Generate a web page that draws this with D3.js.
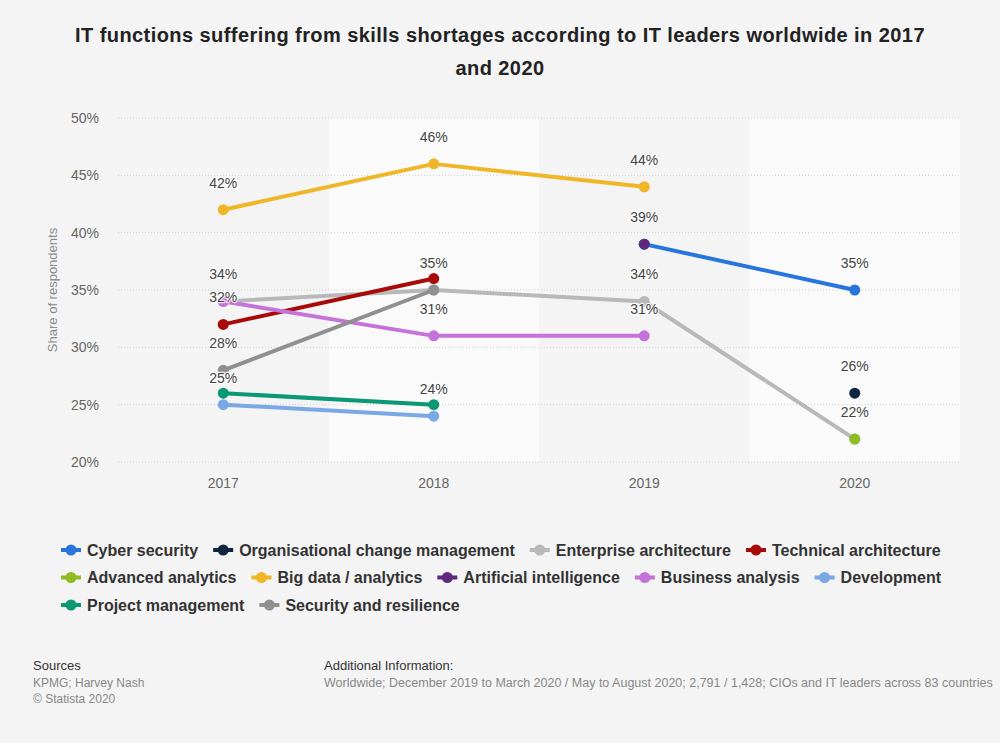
<!DOCTYPE html>
<html><head><meta charset="utf-8">
<script src="https://cdn.jsdelivr.net/npm/d3@7"></script>
<style>
html,body{margin:0;padding:0;background:#f4f4f4;}
svg{display:block;font-family:"Liberation Sans",Arial,Helvetica,sans-serif;}
</style></head>
<body><svg id="chart" width="1000" height="743"></svg>
<script>
const years = ["2017","2018","2019","2020"];
const yTicks = [20,25,30,35,40,45,50];
const seriesNames = ["Cyber security","Organisational change management","Enterprise architecture","Technical architecture","Advanced analytics","Big data / analytics","Artificial intelligence","Business analysis","Development","Project management","Security and resilience"];
const seriesColors = ["#2876dd","#0f2641","#b8b8b8","#a80a0a","#8fbb23","#efb628","#5e2a7d","#c572d9","#79a8e5","#0a9875","#8f8f8f"];
const cyberSecurity = [null,null,39,35];
const orgChange = [null,null,null,26];
const enterpriseArch = [34,35,34,22];
const technicalArch = [32,36,null,null];
const advancedAnalytics = [null,null,null,22];
const bigData = [42,46,44,null];
const artificialIntel = [null,null,39,null];
const businessAnalysis = [34,31,31,null];
const development = [25,24,null,null];
const projectManagement = [26,25,null,null];
const securityResilience = [28,35,null,null];
const seriesValues = [cyberSecurity,orgChange,enterpriseArch,technicalArch,advancedAnalytics,bigData,artificialIntel,businessAnalysis,development,projectManagement,securityResilience];

const titleLines = ["IT functions suffering from skills shortages according to IT leaders worldwide in 2017","and 2020"];

const svg = d3.select("#chart");
const L = 118, R = 960, T = 118, B = 462;
const x = d3.scaleBand().domain(years).range([L,R]);
const y = d3.scaleLinear().domain([20,50]).range([B,T]);
const cx = d => x(d) + x.bandwidth()/2;

// title
const tt = svg.append("g").selectAll("text").data(titleLines).join("text")
  .attr("x",500).attr("y",(d,i)=>41.5+i*33.5).attr("text-anchor","middle")
  .attr("font-size",20).attr("font-weight","bold").attr("fill","#222").text(d=>d);
const t0 = tt.nodes()[0];
const ls = (850 - t0.getComputedTextLength())/titleLines[0].length;
tt.attr("letter-spacing",ls);

// bands
svg.append("g").selectAll("rect").data(years).join("rect")
  .attr("x",d=>x(d)).attr("y",T).attr("width",x.bandwidth()).attr("height",B-T)
  .attr("fill",(d,i)=> i%2 ? "#fafafa" : "#f4f4f4");

// grid
svg.append("g").selectAll("line").data(yTicks).join("line")
  .attr("x1",L).attr("x2",R).attr("y1",d=>y(d)).attr("y2",d=>y(d))
  .attr("stroke","#cfcfcf").attr("stroke-width",1).attr("stroke-dasharray","1,2");

// y axis
const yAxis = d3.axisLeft(y).tickValues(yTicks).tickFormat(d=>d+"%").tickSize(0).tickPadding(0);
const gy = svg.append("g").attr("transform",`translate(99,0)`).call(yAxis);
gy.select(".domain").remove();
gy.selectAll("text").attr("font-size",14).attr("fill","#666").attr("font-family","Liberation Sans, Arial, sans-serif");

svg.append("text").attr("transform","translate(57,290) rotate(-90)").attr("text-anchor","middle")
  .attr("font-size",13).attr("fill","#8a8a8a").text("Share of respondents");

// x axis
const xAxis = d3.axisBottom(x).tickSize(0).tickPadding(0);
const gx = svg.append("g").attr("transform",`translate(0,478)`).call(xAxis);
gx.select(".domain").remove();
gx.selectAll("text").attr("font-size",14).attr("fill","#666").attr("dy","0.71em").attr("font-family","Liberation Sans, Arial, sans-serif");

// series
const line = d3.line().defined(d=>d.v!=null).x(d=>cx(d.year)).y(d=>y(d.v));
const data = seriesNames.map((n,i)=>({name:n,color:seriesColors[i],pts:years.map((yr,j)=>({year:yr,v:seriesValues[i][j]}))}));
const sg = svg.append("g");
data.forEach(s=>{
  const g = sg.append("g");
  g.append("path").datum(s.pts).attr("d",line).attr("fill","none").attr("stroke",s.color)
    .attr("stroke-width",4).attr("stroke-linejoin","round").attr("stroke-linecap","round");
  g.selectAll("circle").data(s.pts.filter(p=>p.v!=null)).join("circle")
    .attr("cx",p=>cx(p.year)).attr("cy",p=>y(p.v)).attr("r",5.5).attr("fill",s.color);
});

// data labels with overlap hiding (series order priority)
const labels = [];
data.forEach(s=>s.pts.forEach(p=>{ if(p.v!=null) labels.push({x:cx(p.year),y:y(p.v)-22,t:p.v+"%"}); }));
const shown = [];
labels.forEach(l=>{
  const ok = shown.every(o=> Math.abs(o.x-l.x)>34 || Math.abs(o.y-l.y)>17);
  if(ok) shown.push(l);
});
svg.append("g").selectAll("text").data(shown).join("text")
  .attr("x",d=>d.x).attr("y",d=>d.y).attr("text-anchor","middle").attr("font-size",14)
  .attr("fill","#444").attr("stroke","rgba(255,255,255,0.8)").attr("stroke-width",2.5)
  .attr("paint-order","stroke").attr("stroke-linejoin","round").text(d=>d.t);

// legend
const lg = svg.append("g");
let lx = 61, ly = 550;
const maxX = 950;
data.forEach(s=>{
  const it = lg.append("g");
  const tx = it.append("text").attr("x",26).attr("y",0).attr("dy","0.35em")
    .attr("font-size",16).attr("font-weight","bold").attr("fill","#333").text(s.name);
  const w = 26 + tx.node().getComputedTextLength();
  if(lx + w > maxX){ lx = 61; ly += 27.5; }
  it.attr("transform",`translate(${lx},${ly})`);
  it.append("line").attr("x1",0).attr("x2",20).attr("y1",0).attr("y2",0).attr("stroke",s.color).attr("stroke-width",4);
  it.append("circle").attr("cx",10).attr("cy",0).attr("r",5.5).attr("fill",s.color);
  lx += w + 15;
});

// footer
const f = svg.append("g").attr("font-size",12);
f.append("text").attr("x",33).attr("y",670).attr("fill","#333").attr("font-size",13).text("Sources");
f.append("text").attr("x",33).attr("y",687).attr("fill","#888").text("KPMG; Harvey Nash");
f.append("text").attr("x",33).attr("y",703).attr("fill","#888").text("© Statista 2020");
f.append("text").attr("x",324).attr("y",670).attr("fill","#333").attr("font-size",13).text("Additional Information:");
f.append("text").attr("x",324).attr("y",687).attr("fill","#888").attr("font-size",12.5).text("Worldwide; December 2019 to March 2020 / May to August 2020; 2,791 / 1,428; CIOs and IT leaders across 83 countries");
</script></body></html>
